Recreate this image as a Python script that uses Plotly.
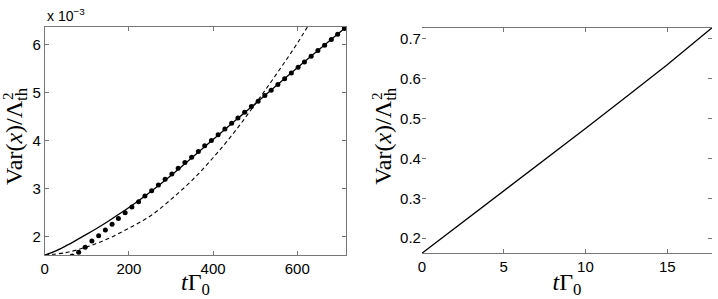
import plotly.graph_objects as go

# ---- left panel data (y in units of 1e-3) ----
solid_t = [0, 25, 50, 75, 100, 125, 150, 175, 200, 250, 300, 400, 500, 600, 712]
solid_v = [1.61, 1.69, 1.80, 1.92, 2.045, 2.175, 2.31, 2.455, 2.60, 2.92, 3.27, 4.02, 4.77, 5.52, 6.34]

dash_t = [0, 50, 100, 150, 200, 250, 300, 350, 400, 450, 500, 550, 600, 650]
dash_v = [1.61, 1.66, 1.78, 1.95, 2.17, 2.42, 2.77, 3.17, 3.64, 4.17, 4.76, 5.38, 6.03, 6.75]

dot_t = [49, 65, 80.5, 96, 112, 128, 144, 160, 175, 191, 207, 223, 238, 254, 270,
         286, 302, 317, 333, 349, 365, 380, 396, 412, 428, 444, 459, 475, 491,
         507, 523, 538, 554, 570, 586, 602, 617, 633, 649, 665, 681, 696, 712]
dot_v = [1.52, 1.59, 1.67, 1.77, 1.90, 2.01, 2.13, 2.25, 2.37, 2.49, 2.61, 2.72, 2.84, 2.95, 3.07,
         3.19, 3.30, 3.42, 3.54, 3.65, 3.77, 3.89, 4.00, 4.12, 4.24, 4.36, 4.47, 4.59, 4.71,
         4.82, 4.94, 5.05, 5.17, 5.29, 5.41, 5.53, 5.64, 5.76, 5.88, 5.99, 6.11, 6.22, 6.34]

# ---- right panel data ----
r_t = [0, 2.5, 5, 7.5, 10, 12.5, 15, 17.74]
r_v = [0.162, 0.240, 0.319, 0.397, 0.475, 0.555, 0.635, 0.728]

left_xticks = [0, 200, 400, 600]
left_yticks = [2, 3, 4, 5, 6]
right_xticks = [0, 5, 10, 15]
right_yticks = [0.2, 0.3, 0.4, 0.5, 0.6, 0.7]

W, H = 718, 299
DX, DY = -3, -1  # small correction of page offset

fig = go.Figure()

fig.add_trace(go.Scatter(x=dash_t, y=dash_v, mode="lines", line_shape="spline",
                         line=dict(color="black", width=1.1, dash="4px,3px"),
                         xaxis="x", yaxis="y", showlegend=False))
fig.add_trace(go.Scatter(x=solid_t, y=solid_v, mode="lines", line_shape="spline",
                         line=dict(color="black", width=1.3),
                         xaxis="x", yaxis="y", showlegend=False))
fig.add_trace(go.Scatter(x=dot_t, y=dot_v, mode="markers",
                         marker=dict(color="black", size=5),
                         xaxis="x", yaxis="y", showlegend=False))
fig.add_trace(go.Scatter(x=r_t, y=r_v, mode="lines",
                         line=dict(color="black", width=1.3),
                         xaxis="x2", yaxis="y2", showlegend=False))

tickfont = dict(family="Liberation Sans, Arial", size=15, color="black")
titlefont = dict(family="Liberation Serif, Times New Roman, serif", size=24, color="black")

common = dict(ticks="inside", ticklen=4, tickcolor="#777", showgrid=False,
              zeroline=False, tickfont=tickfont)

def px_x(p):
    return (p + DX) / W

def px_y(p):
    return 1 - (p + DY) / H

annots = [dict(text="x 10<sup>−3</sup>", xref="paper", yref="paper",
               x=px_x(44), y=px_y(27), xanchor="left", yanchor="bottom",
               showarrow=False, font=dict(family="Liberation Sans, Arial", size=14, color="black"))]
for cx in (15, 386):
    annots.append(dict(text="Var(<i>x</i>)/Λ<sub>th</sub>", xref="paper", yref="paper",
                       x=px_x(cx), y=px_y(86), xanchor="center", yanchor="top",
                       textangle=-90, showarrow=False, font=titlefont))
    annots.append(dict(text="2", xref="paper", yref="paper",
                       x=px_x(cx - 8), y=px_y(97), xanchor="center", yanchor="middle",
                       textangle=-90, showarrow=False,
                       font=dict(family="Liberation Serif, Times New Roman, serif", size=15, color="black")))

fig.update_layout(
    width=W, height=H,
    margin=dict(l=0, r=0, t=0, b=0),
    paper_bgcolor="white", plot_bgcolor="white",
    xaxis=dict(domain=[px_x(44), px_x(347)], range=[0, 716], tickvals=left_xticks,
               showline=True, linecolor="#777", linewidth=1, mirror="ticks",
               anchor="y",
               title=dict(text="<i>t</i>Γ<sub>0</sub>", font=titlefont, standoff=0),
               **common),
    yaxis=dict(domain=[px_y(256), px_y(28)], range=[1.61, 6.37], tickvals=left_yticks,
               showline=True, linecolor="#777", linewidth=1, mirror="ticks",
               anchor="x", **common),
    xaxis2=dict(domain=[px_x(423.3), px_x(715)], range=[0, 17.74], tickvals=right_xticks,
                showline=True, linecolor="#777", linewidth=1, mirror="ticks",
                anchor="y2",
                title=dict(text="<i>t</i>Γ<sub>0</sub>", font=titlefont, standoff=0),
                **common),
    yaxis2=dict(domain=[px_y(254.3), px_y(28.7)], range=[0.162, 0.728], tickvals=right_yticks,
                tickformat=".1f",
                showline=False, mirror="ticks",
                anchor="x2", **common),
    annotations=annots,
)

fig.write_html("out.html", config={"displayModeBar": False},
               post_script="document.body.style.margin='0';document.body.style.padding='0';")
